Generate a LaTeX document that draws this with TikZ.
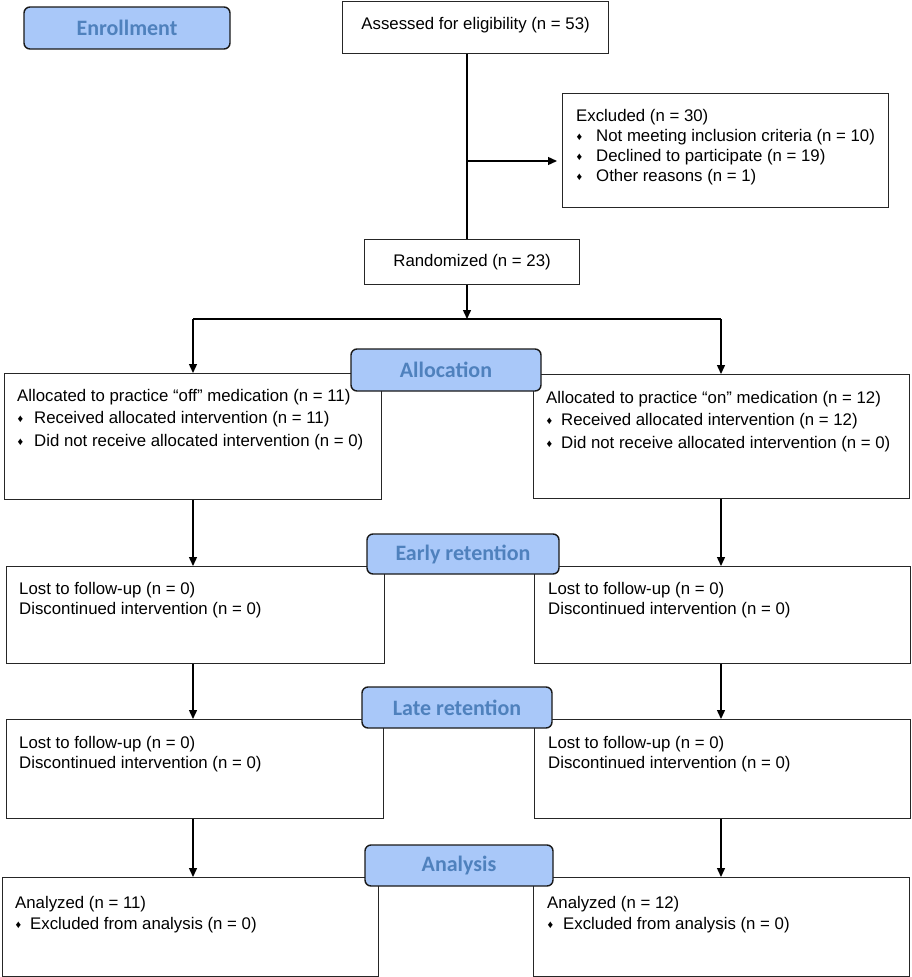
\documentclass[tikz,border=0pt]{standalone}
\usepackage{fontspec}
\setmainfont{Liberation Sans}
\newfontfamily\labfont{Carlito}
\usetikzlibrary{arrows.meta}
\definecolor{labfill}{HTML}{A9C8F9}
\definecolor{labtext}{HTML}{4F81BD}
\newcommand{\bitem}[1]{\makebox[#1][l]{\hspace{0.5pt}\raisebox{1pt}{\fontsize{11}{11}\selectfont ♦}}}
\begin{document}
\begin{tikzpicture}[x=1pt,y=-1pt,
  box/.style={draw=black!85, line width=1.2pt, anchor=north west, inner sep=0pt},
  cbox/.style={draw=black!85, line width=1.2pt, anchor=north west, inner sep=0pt, font=\fontsize{16.8}{20}\selectfont},
  txt/.style={anchor=north west, inner sep=0pt, align=left, font=\fontsize{16.8}{20}\selectfont},
  txtw/.style={anchor=north west, inner sep=0pt, align=left, font=\fontsize{16.8}{22.5}\selectfont},
  lab/.style={draw=black!90, line width=1.4pt, rounded corners=6pt, fill=labfill, text=labtext,
    font=\labfont\bfseries\fontsize{22}{22}\selectfont, inner sep=0pt},
  conn/.style={line width=1.4pt},
  arr/.style={conn, -{Triangle[length=9pt,width=8pt]}}]
\useasboundingbox (0,0) rectangle (912,977);

% coordinates for connector columns
\coordinate (trunk) at (467,0);
\coordinate (colL) at (193,0);
\coordinate (colR) at (721,0);

% boxes
\node[cbox, minimum width=266pt, minimum height=52pt, text height=10pt, text depth=6pt] (assess) at (342,1) {Assessed for eligibility (n = 53)};
\node[box, minimum width=326pt, minimum height=114pt] (excl) at (562,93) {};
\node[txt] (exclt) at (576,109.5) {Excluded (n = 30)\\
  \bitem{20pt}Not meeting inclusion criteria (n = 10)\\
  \bitem{20pt}Declined to participate (n = 19)\\
  \bitem{20pt}Other reasons (n = 1)};
\node[cbox, minimum width=215pt, minimum height=45pt] (rand) at (364,239) {Randomized (n = 23)};

\node[box, minimum width=377pt, minimum height=126pt] (allocL) at (4,373) {};
\node[txtw] (allocLt) at (17,389) {Allocated to practice “off” medication (n = 11)\\
  \bitem{17pt}Received allocated intervention (n = 11)\\
  \bitem{17pt}Did not receive allocated intervention (n = 0)};
\node[box, minimum width=376pt, minimum height=124pt] (allocR) at (533,374) {};
\node[txtw] (allocRt) at (546,391) {Allocated to practice “on” medication (n = 12)\\
  \bitem{15pt}Received allocated intervention (n = 12)\\
  \bitem{15pt}Did not receive allocated intervention (n = 0)};

\node[box, minimum width=378pt, minimum height=97pt] (erL) at (6,566) {};
\node[txt] (erLt) at (19,582) {Lost to follow-up (n = 0)\\Discontinued intervention (n = 0)};
\node[box, minimum width=376pt, minimum height=97pt] (erR) at (534,566) {};
\node[txt] (erRt) at (548,582) {Lost to follow-up (n = 0)\\Discontinued intervention (n = 0)};

\node[box, minimum width=377pt, minimum height=99pt] (ltL) at (6,719) {};
\node[txt] (ltLt) at (19,736) {Lost to follow-up (n = 0)\\Discontinued intervention (n = 0)};
\node[box, minimum width=376pt, minimum height=99pt] (ltR) at (534,719) {};
\node[txt] (ltRt) at (548,736) {Lost to follow-up (n = 0)\\Discontinued intervention (n = 0)};

\node[box, minimum width=376pt, minimum height=99pt] (anL) at (2,877) {};
\node[txt, font=\fontsize{16.8}{21}\selectfont] (anLt) at (15,896) {Analyzed (n = 11)\\
  \bitem{15pt}Excluded from analysis (n = 0)};
\node[box, minimum width=376pt, minimum height=99pt] (anR) at (533,877) {};
\node[txt, font=\fontsize{16.8}{21}\selectfont] (anRt) at (547,896) {Analyzed (n = 12)\\
  \bitem{16pt}Excluded from analysis (n = 0)};

% connectors
\draw[conn] (assess.south -| trunk) -- (rand.north -| trunk);
\coordinate (exy) at (467,161);
\draw[arr, shorten >=5pt] (exy) -- (exy -| excl.west);
\coordinate (split) at (467,319);
\coordinate (splitL) at (193,319);
\coordinate (splitR) at (721,319);
\draw[arr] (rand.south -| trunk) -- (split);
\draw[conn] (splitL) -- (splitR);
\draw[arr] (splitL) -- (allocL.north -| colL);
\draw[arr] (splitR) -- (allocR.north -| colR);
\draw[arr] (allocL.south -| colL) -- (erL.north -| colL);
\draw[arr] (allocR.south -| colR) -- (erR.north -| colR);
\draw[arr] (erL.south -| colL) -- (ltL.north -| colL);
\draw[arr] (erR.south -| colR) -- (ltR.north -| colR);
\draw[arr] (ltL.south -| colL) -- (anL.north -| colL);
\draw[arr] (ltR.south -| colR) -- (anR.north -| colR);

% stage labels
\node[lab, minimum width=206pt, minimum height=42pt] (enroll) at (127,28) {Enrollment};
\node[lab, minimum width=190pt, minimum height=42pt] (alloc) at (446,370) {Allocation};
\node[lab, minimum width=192pt, minimum height=40pt] (early) at (463,554) {Early retention};
\node[lab, minimum width=190pt, minimum height=41pt] (late) at (457,707.5) {Late retention};
\node[lab, minimum width=188pt, minimum height=41pt] (anal) at (459,865.5) {Analysis};
\end{tikzpicture}
\end{document}
